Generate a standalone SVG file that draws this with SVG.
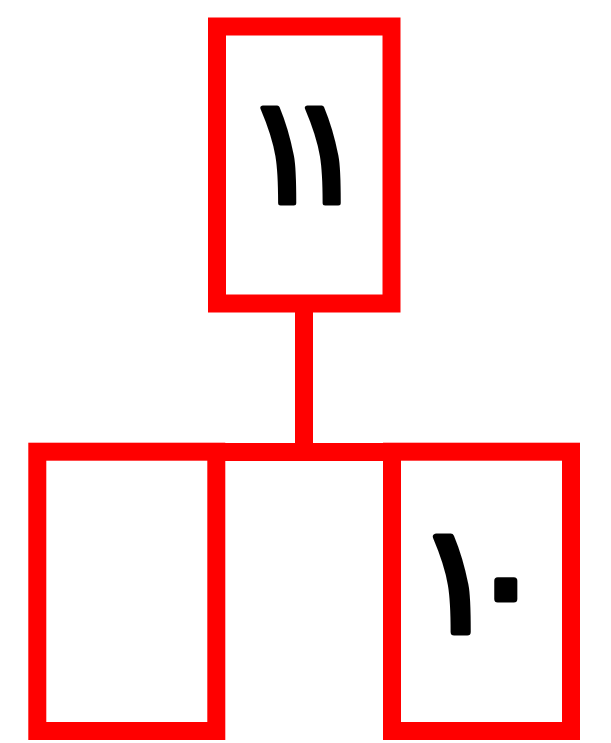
<svg xmlns="http://www.w3.org/2000/svg" width="611" height="743" viewBox="0 0 611 743">
<style>
.box{fill:#fff;stroke:#ff0000;stroke-width:18}
.conn{fill:none;stroke:#ff0000;stroke-width:18}
.lbl{font-family:"DejaVu Sans",sans-serif;font-size:150px;font-weight:normal;fill:#000;stroke:#000;stroke-width:5;stroke-linejoin:round;text-anchor:middle}
</style>
<rect width="611" height="743" fill="#fff"/>
<g id="connectors">
<line class="conn" x1="304" y1="300" x2="304" y2="452"/>
<line class="conn" x1="216" y1="452" x2="392" y2="452"/>
</g>
<g id="node-top">
<rect class="box" x="217" y="26.5" width="174.5" height="277"/>
<text class="lbl" x="305" y="203" textLength="125" lengthAdjust="spacing">١١</text>
</g>
<g id="node-left">
<rect class="box" x="37.3" y="451.7" width="179" height="279.3"/>
</g>
<g id="node-right">
<rect class="box" x="392" y="451.7" width="179" height="279.3"/>
<text class="lbl" x="481" y="632" textLength="130" lengthAdjust="spacing" style="stroke-width:7">١٠</text>
</g>
</svg>
